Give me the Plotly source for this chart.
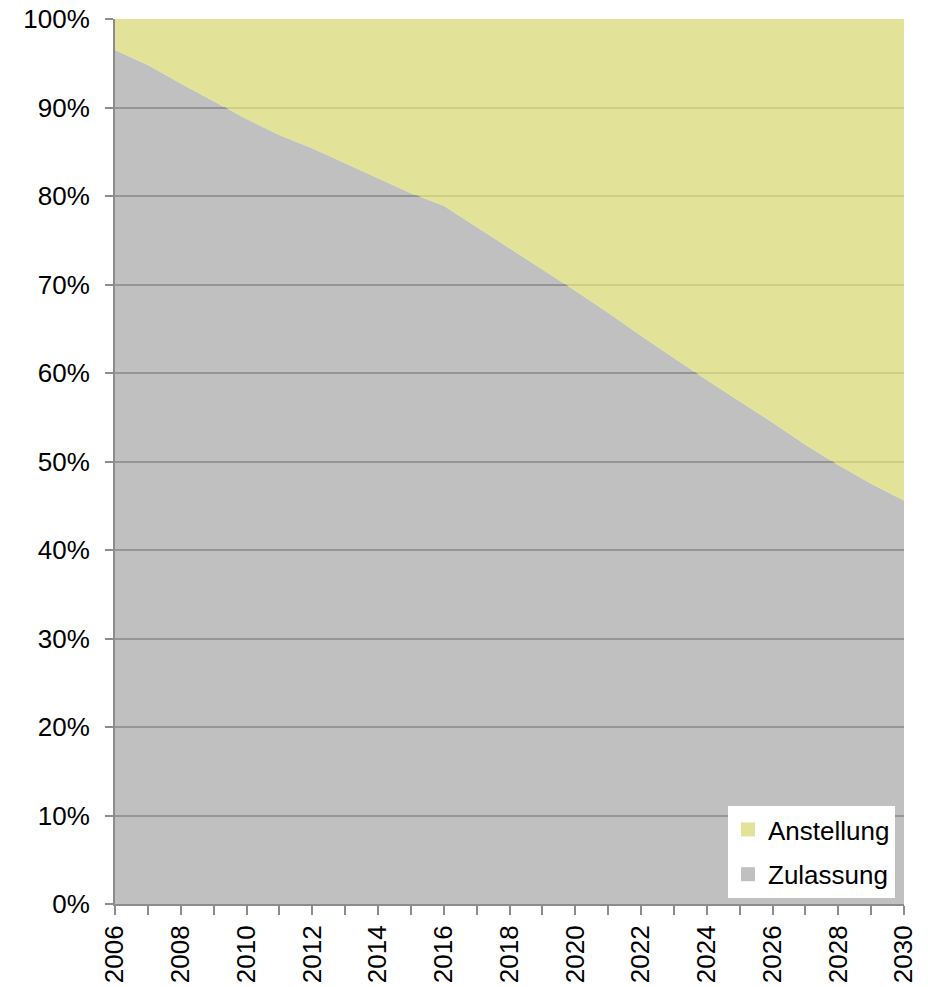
import plotly.graph_objects as go

years = list(range(2006, 2031))
zulassung = [96.5, 94.8, 92.7, 90.7, 88.7, 86.9, 85.4, 83.7, 82.0, 80.3, 78.9, 76.5,
             74.1, 71.7, 69.3, 66.8, 64.2, 61.7, 59.2, 56.8, 54.4, 51.9, 49.6, 47.5, 45.6]
anstellung = [3.5, 5.2, 7.3, 9.3, 11.3, 13.1, 14.6, 16.3, 18.0, 19.7, 21.1, 23.5,
              25.9, 28.3, 30.7, 33.2, 35.8, 38.3, 40.8, 43.2, 45.6, 48.1, 50.4, 52.5, 54.4]
y_ticks = [0, 10, 20, 30, 40, 50, 60, 70, 80, 90, 100]
y_labels = [f"{v}%" for v in y_ticks]
x_ticks = list(range(2006, 2031, 2))

col_z = "rgba(168,168,168,0.72)"
col_a = "rgba(223,222,138,0.87)"
leg_z = "#c0c0c0"
leg_a = "#e3e299"

fig = go.Figure()
# legend entries with square swatches (Anstellung listed first)
fig.add_trace(go.Scatter(x=[None], y=[None], mode="markers", name="Anstellung",
                         marker=dict(symbol="square", size=14, color=leg_a),
                         legendgroup="a"))
fig.add_trace(go.Scatter(x=[None], y=[None], mode="markers", name="Zulassung",
                         marker=dict(symbol="square", size=14, color=leg_z),
                         legendgroup="z"))
# stacked areas
fig.add_trace(go.Scatter(
    x=years, y=zulassung, name="Zulassung", stackgroup="one", mode="none",
    fillcolor=col_z, showlegend=False, legendgroup="z", hoverinfo="skip"))
fig.add_trace(go.Scatter(
    x=years, y=anstellung, name="Anstellung", stackgroup="one", mode="none",
    fillcolor=col_a, showlegend=False, legendgroup="a", hoverinfo="skip"))

font = dict(family="Liberation Sans, Arial, sans-serif", size=26, color="#000000")

fig.update_layout(
    width=928, height=987,
    margin=dict(l=115, r=24, t=19, b=83),
    paper_bgcolor="white", plot_bgcolor="white",
    font=font,
    showlegend=True,
    legend=dict(
        x=0.9886, y=0.0068, xanchor="right", yanchor="bottom",
        bgcolor="white", traceorder="grouped",
        font=font, itemwidth=30, tracegroupgap=8,
    ),
    xaxis=dict(
        range=[2006, 2030], tickvals=x_ticks, ticktext=[str(v) for v in x_ticks],
        tickangle=-90, ticks="outside", ticklen=9, tickwidth=2, tickcolor="#8c8c8c",
        minor=dict(dtick=1, ticks="outside", ticklen=9, tickwidth=2, tickcolor="#8c8c8c", showgrid=False),
        showline=True, linecolor="#8c8c8c", linewidth=2, showgrid=False, zeroline=False,
        tickfont=font, automargin=False,
    ),
    yaxis=dict(
        range=[0, 100], tickvals=y_ticks, ticktext=y_labels,
        ticks="outside", ticklen=8, tickwidth=2, tickcolor="#8c8c8c",
        showline=True, linecolor="#8c8c8c", linewidth=2,
        showgrid=True, gridcolor="#646464", gridwidth=2, zeroline=False,
        tickfont=font, automargin=False, ticklabelstandoff=10,
    ),
)

fig.write_html("out.html", config={"displayModeBar": False},
               post_script="document.body.style.margin='0';")
